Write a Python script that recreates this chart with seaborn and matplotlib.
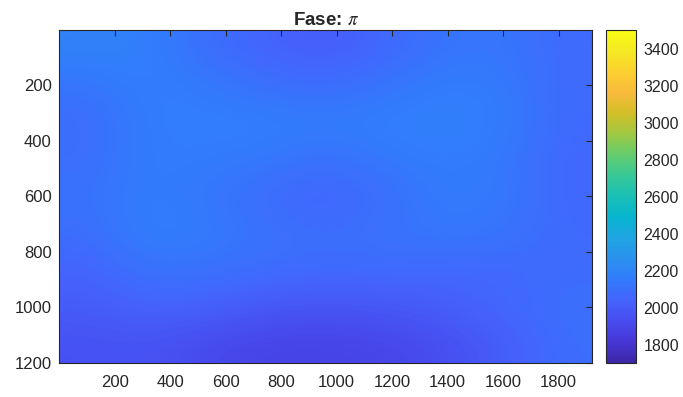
import numpy as np
import pandas as pd
import matplotlib
matplotlib.use("Agg")
import matplotlib.pyplot as plt
import seaborn as sns
from matplotlib.colors import LinearSegmentedColormap

# pixel grid of the frame (columns x rows)
n_cols = 1920
n_rows = 1200

# intensity on a coarse grid, top row first
grid_x = [0, 240, 480, 720, 960, 1200, 1440, 1680, 1920]
grid_y = [0, 150, 300, 450, 600, 750, 900, 1050, 1200]
intensity = [
    [2190, 2170, 2090, 2040, 2000, 2060, 2120, 2130, 2070],
    [2120, 2170, 2140, 2100, 2080, 2120, 2160, 2150, 2070],
    [2080, 2160, 2170, 2170, 2160, 2170, 2180, 2160, 2070],
    [2090, 2160, 2150, 2140, 2100, 2140, 2160, 2140, 2060],
    [2110, 2160, 2130, 2080, 2040, 2090, 2150, 2140, 2060],
    [2090, 2170, 2150, 2110, 2090, 2110, 2140, 2120, 2070],
    [2040, 2120, 2110, 2090, 2080, 2080, 2060, 2060, 2080],
    [2000, 2040, 2030, 1980, 1960, 1980, 2010, 2060, 2100],
    [1950, 1960, 1910, 1880, 1880, 1890, 1930, 2010, 2090],
]

clim = (1700, 3500)
cbar_ticks = [1800, 2000, 2200, 2400, 2600, 2800, 3000, 3200, 3400]
x_ticks = [200, 400, 600, 800, 1000, 1200, 1400, 1600, 1800]
y_ticks = [200, 400, 600, 800, 1000, 1200]

# MATLAB parula (every 4th entry of parula(64))
parula_rgb = [
    (0.2422, 0.1504, 0.6603), (0.2706, 0.2147, 0.8364), (0.2813, 0.3006, 0.9414),
    (0.2699, 0.3892, 0.9906), (0.1963, 0.4847, 0.9892), (0.1687, 0.5703, 0.9359),
    (0.1248, 0.6459, 0.8883), (0.0297, 0.7082, 0.8163), (0.0964, 0.7500, 0.7120),
    (0.2161, 0.7843, 0.5923), (0.3909, 0.8029, 0.4354), (0.6174, 0.7876, 0.2612),
    (0.8203, 0.7498, 0.1535), (0.9728, 0.7298, 0.2394), (0.9892, 0.8136, 0.1885),
    (0.9597, 0.9135, 0.1423), (0.9769, 0.9839, 0.0805),
]
parula = LinearSegmentedColormap.from_list("parula", parula_rgb, N=256)

df = pd.DataFrame(intensity, index=grid_y, columns=grid_x)

sns.set_style("white")
plt.rcParams['font.family'] = ['Liberation Sans', 'DejaVu Sans']
plt.rcParams['mathtext.fontset'] = 'stix'
axis_col = (0.15, 0.15, 0.15)

fig = plt.figure(figsize=(6.83, 3.97), dpi=100)
ax = fig.add_axes([0.0871, 0.0856, 0.7797, 0.8388])
cax = fig.add_axes([0.8873, 0.0856, 0.0444, 0.8388])

im = ax.imshow(df.values, cmap=parula, vmin=clim[0], vmax=clim[1],
               extent=(0.5, n_cols + 0.5, n_rows + 0.5, 0.5),
               interpolation='bicubic', aspect='auto')
ax.set_xlim(0.5, n_cols + 0.5)
ax.set_ylim(n_rows + 0.5, 0.5)
ax.set_xticks(x_ticks)
ax.set_yticks(y_ticks)
ax.tick_params(direction='in', length=4, width=0.8, colors=axis_col,
               labelsize=12, top=True, right=True)
ax.tick_params(axis='x', pad=8.5)
ax.tick_params(axis='y', pad=5.5)
for s in ax.spines.values():
    s.set_color(axis_col)
    s.set_linewidth(0.8)
ax.set_title("Fase: $\\pi$", fontsize=13.5, fontweight='bold', pad=3.5)

cb = fig.colorbar(im, cax=cax, ticks=cbar_ticks)
cb.ax.tick_params(direction='in', length=4, width=0.8, colors=axis_col,
                  labelsize=11.5, pad=5)
cb.outline.set_edgecolor(axis_col)
cb.outline.set_linewidth(0.8)

fig.savefig("out.png", dpi=100)
